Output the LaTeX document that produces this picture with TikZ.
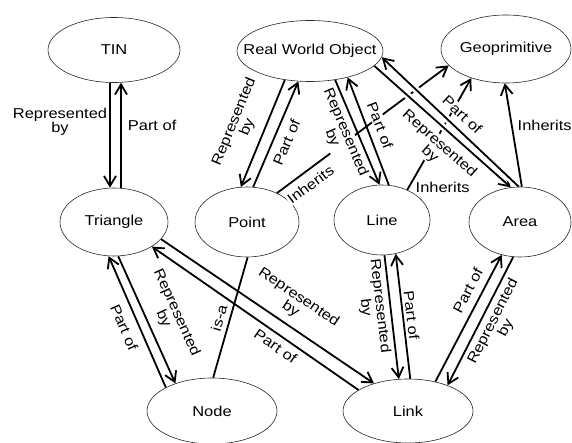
\documentclass[tikz,border=0pt]{standalone}
\usepackage{fontspec}
\setmainfont{Liberation Sans}[FakeStretch=1.15]
\usetikzlibrary{arrows.meta,shapes.geometric}

\newcommand{\objname}[1]{\makebox[0pt]{#1}}

\begin{document}
\begin{tikzpicture}[x=1pt,y=-1pt,
    obj/.style={draw=black!85,ellipse,inner sep=0pt,line width=0.6pt,
        font=\fontsize{14.3}{13}\selectfont},
    rel/.style={-{Straight Barb[length=10pt,width=12pt]},line width=1.8pt},
    inh/.style={line width=1.8pt},
    halo/.style={preaction={draw=white,line width=7pt,arrows=-,shorten <=8pt,shorten >=12pt}},
    lbl/.style={inner sep=1pt,fill=white,align=center,
        font=\fontsize{14.3}{13}\selectfont}]
    \useasboundingbox (0,0) rectangle (572,443);

    % objects
    \node[obj,minimum width=132pt,minimum height=65pt] (tin) at (114,50) {\objname{TIN}};
    \node[obj,minimum width=146pt,minimum height=61pt] (rwo) at (310,51) {\objname{Real World Object}};
    \node[obj,minimum width=130pt,minimum height=68pt] (geo) at (506,49) {\objname{Geoprimitive}};
    \node[obj,minimum width=108pt,minimum height=68pt] (tri) at (114,222) {\objname{Triangle}};
    \node[obj,minimum width=104pt,minimum height=70pt] (pnt) at (247,222) {\objname{Point}};
    \node[obj,minimum width=96pt,minimum height=70pt] (lin) at (382,220) {\objname{Line}};
    \node[obj,minimum width=102pt,minimum height=70pt] (are) at (520,222) {\objname{Area}};
    \node[obj,minimum width=130pt,minimum height=66pt] (nod) at (212,411) {\objname{Node}};
    \node[obj,minimum width=130pt,minimum height=64pt] (lnk) at (408,411) {\objname{Link}};

    % inheritance
    \draw[rel] (pnt.44.1) -- node[lbl,sloped,below=6pt,pos=0.15]{Inherits} (geo.196.1);
    \draw[rel] (lin.50.9) -- (geo.220.2);
    \draw[rel] (are.87.4) -- node[lbl,pos=0.59,right=4pt]{Inherits} (geo.268.5);
    \draw[inh] (pnt.271.6) -- node[lbl,sloped,above=3.5pt,pos=0.53]{is-a} (nod.88.3);

    % TIN - Triangle
    \draw[rel] ([xshift=-4pt]tin.south) -- node[lbl,left=1pt,pos=0.37]{Represented\\by} ([xshift=-4pt]tri.north);
    \draw[rel] ([xshift=7pt]tri.north) -- node[lbl,right=5pt,pos=0.59]{Part of} ([xshift=7pt]tin.south);

    % Real World Object
    \draw[rel] (rwo.229.8) -- node[lbl,sloped,above=8pt,pos=0.5]{Represented\\by} (pnt.100.7);
    \draw[rel] (pnt.80.3) -- node[lbl,sloped,below=6pt,pos=0.47]{Part of} (rwo.249.1);
    \draw[rel] (rwo.311.4) -- node[lbl,sloped,below=2.5pt,pos=0.46]{Represented\\by} (lin.94.6);
    \draw[rel] (lin.79.5) -- node[lbl,sloped,above=6pt,pos=0.51]{Part of} (rwo.325.4);
    \draw[rel,halo] (rwo.347.5) -- node[lbl,sloped,below=6.5pt,pos=0.55]{Represented\\by} (are.105.1);
    \draw[rel,halo] (are.92.7) -- node[lbl,sloped,above=6.5pt,pos=0.48]{Part of} (rwo.355.3);
    \path (lin.50.9) -- node[lbl,pos=0.02,right=6pt]{Inherits} (geo.220.2);

    % Node and Link
    \draw[rel] (nod.153.9) -- node[lbl,sloped,below=7pt,pos=0.5]{Part of} (tri.261);
    \draw[rel] (tri.277.9) -- node[lbl,sloped,above=7pt,pos=0.54]{Represented\\by} (nod.143.4);
    \draw[rel] (tri.340.6) -- node[lbl,sloped,above=6pt,pos=0.57]{Represented\\by} (lnk.141.7);
    \draw[rel] (lnk.157.2) -- node[lbl,sloped,below=4pt,pos=0.37]{Part of} (tri.327.3);
    \draw[rel] (lin.274.1) -- node[lbl,sloped,below=2pt,pos=0.4]{Represented\\by} (lnk.106.9);
    \draw[rel] (lnk.86.6) -- node[lbl,sloped,above=1.5pt,pos=0.5]{Part of} (lin.292.8);
    \draw[rel] (lnk.47.7) -- node[lbl,sloped,above=6.5pt,pos=0.67]{Part of} (are.241.4);
    \draw[rel] (are.259.3) -- node[lbl,sloped,below=3pt,pos=0.46]{Represented\\by} (lnk.33.7);
\end{tikzpicture}
\end{document}
